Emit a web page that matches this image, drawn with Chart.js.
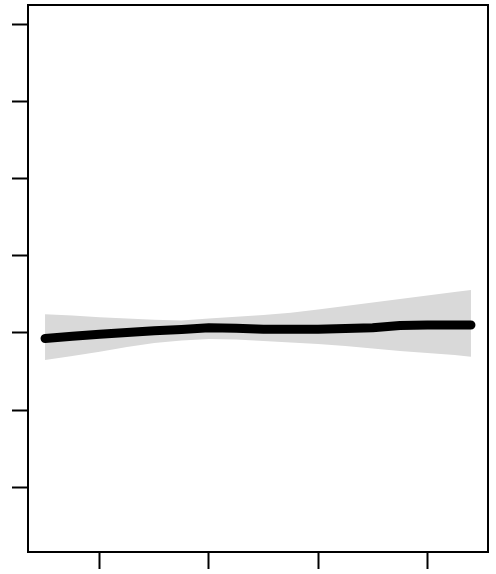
<!DOCTYPE html>
<html lang="en">

<head>
    <meta charset="UTF-8">
    <title>smooth fit</title>
    <style>
        body { margin: 0; background: #fff; }
        canvas { display: block; }
    </style>
</head>

<body>
    <canvas id="Chart" width="496" height="574"></canvas>

    <script src="https://cdn.jsdelivr.net/npm/chart.js"></script>

    <script>
        // x positions of the fitted curve
        const xVals = [10, 15, 20, 25, 30, 35, 40, 45, 50, 55, 60, 65, 70, 75, 80, 85, 88];
        // fitted values
        const fit = [-0.071, -0.043, -0.017, 0.006, 0.028, 0.045, 0.067, 0.061, 0.048, 0.048, 0.048, 0.058, 0.067, 0.097, 0.104, 0.104, 0.104];
        // confidence band
        const upper = [0.242, 0.227, 0.203, 0.188, 0.171, 0.162, 0.188, 0.211, 0.233, 0.262, 0.306, 0.351, 0.396, 0.442, 0.487, 0.531, 0.557];
        const lower = [-0.350, -0.298, -0.242, -0.181, -0.130, -0.097, -0.078, -0.084, -0.104, -0.123, -0.142, -0.168, -0.201, -0.233, -0.259, -0.285, -0.307];

        // tick positions (no labels shown)
        const xTicks = [20, 40, 60, 80];
        const yTicks = [-2, -1, 0, 1, 2, 3, 4];

        function toPoints(ys) {
            return xVals.map(function (x, i) { return { x: x, y: ys[i] }; });
        }

        // box around the plot area
        const boxPlugin = {
            id: 'box',
            afterDraw: function (chart) {
                const a = chart.chartArea;
                const ctx = chart.ctx;
                ctx.save();
                ctx.strokeStyle = '#000';
                ctx.lineWidth = 2;
                ctx.strokeRect(a.left, a.top, a.right - a.left, a.bottom - a.top);
                ctx.restore();
            }
        };

        const canvas = document.getElementById('Chart').getContext('2d');
        new Chart(canvas, {
            type: 'line',
            data: {
                datasets: [{
                    label: 'upper',
                    data: toPoints(upper),
                    borderWidth: 0,
                    pointRadius: 0,
                    backgroundColor: '#d9d9d9',
                    fill: '+1',
                    order: 2
                }, {
                    label: 'lower',
                    data: toPoints(lower),
                    borderWidth: 0,
                    pointRadius: 0,
                    fill: false,
                    order: 2
                }, {
                    label: 'fit',
                    data: toPoints(fit),
                    borderColor: '#000',
                    borderWidth: 9,
                    borderCapStyle: 'round',
                    borderJoinStyle: 'round',
                    pointRadius: 0,
                    fill: false,
                    order: 1
                }]
            },
            options: {
                responsive: false,
                animation: false,
                layout: { padding: { left: 12, top: 5, right: 8, bottom: 5 } },
                plugins: {
                    legend: { display: false },
                    tooltip: { enabled: false }
                },
                scales: {
                    x: {
                        type: 'linear',
                        min: 6.88,
                        max: 91.12,
                        afterBuildTicks: function (scale) {
                            scale.ticks = xTicks.map(function (v) { return { value: v }; });
                        },
                        ticks: { display: false },
                        border: { display: false },
                        grid: {
                            drawOnChartArea: false,
                            drawTicks: true,
                            tickLength: 17,
                            tickWidth: 2,
                            tickColor: '#000'
                        }
                    },
                    y: {
                        type: 'linear',
                        min: -2.837,
                        max: 4.249,
                        afterBuildTicks: function (scale) {
                            scale.ticks = yTicks.map(function (v) { return { value: v }; });
                        },
                        ticks: { display: false },
                        border: { display: false },
                        grid: {
                            drawOnChartArea: false,
                            drawTicks: true,
                            tickLength: 16,
                            tickWidth: 2,
                            tickColor: '#000'
                        }
                    }
                }
            },
            plugins: [boxPlugin]
        });
    </script>
</body>

</html>
